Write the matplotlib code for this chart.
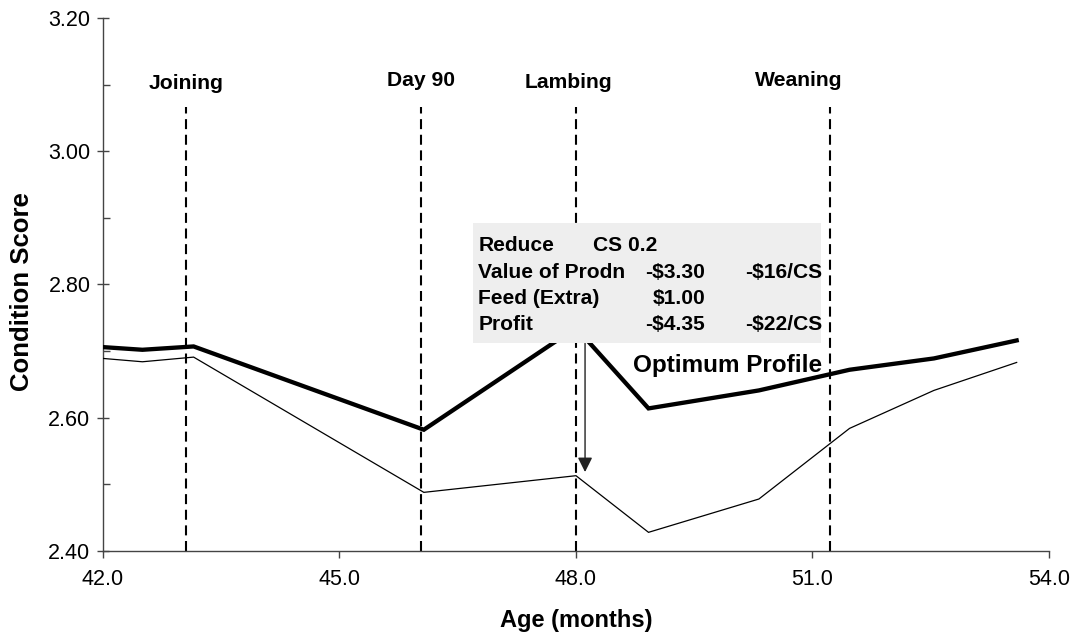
import matplotlib
matplotlib.use("Agg")
import matplotlib.pyplot as plt
from matplotlib.ticker import MultipleLocator, FormatStrFormatter
from matplotlib.patches import Rectangle

plt.rcParams['font.family'] = ['Liberation Sans', 'DejaVu Sans']

# ---- data ----
age = [42.0, 42.5, 43.15, 46.07, 48.0, 48.92, 50.32, 51.47, 52.54, 53.59]
optimum_cs = [2.706, 2.702, 2.707, 2.582, 2.735, 2.614, 2.641, 2.672, 2.689, 2.716]
reduced_cs = [2.689, 2.684, 2.691, 2.488, 2.513, 2.428, 2.478, 2.584, 2.641, 2.683]

event_names = ["Joining", "Day 90", "Lambing", "Weaning"]
event_ages = [43.05, 46.03, 48.0, 51.22]

box_rows = [
    ["Reduce", "CS 0.2", "", ""],
    ["Value of Prodn", "", "-$3.30", "-$16/CS"],
    ["Feed (Extra)", "", "$1.00", ""],
    ["Profit", "", "-$4.35", "-$22/CS"],
]

x_ticks = [42.0, 45.0, 48.0, 51.0, 54.0]
y_ticks = [2.40, 2.60, 2.80, 3.00, 3.20]

# ---- figure ----
fig = plt.figure(figsize=(10.76, 6.35), dpi=100)
ax = fig.add_axes([0.0957, 0.1323, 0.8792, 0.8394])
ax.set_xlim(42.0, 54.0)
ax.set_ylim(2.40, 3.20)

ax.plot(age, reduced_cs, color='black', lw=0.9, zorder=3, solid_joinstyle='miter')
ax.plot(age, optimum_cs, color='black', lw=3.1, zorder=3, solid_joinstyle='miter')

for a in event_ages:
    ax.vlines(a, 2.40, 3.066, colors='black', lw=1.5,
              linestyles=(0, (4.8, 2.7)), zorder=2)

label_x = [43.05, 46.04, 47.91, 50.83]
label_y = [3.0927, 3.0977, 3.0951, 3.0977]
for name, lx, ly in zip(event_names, label_x, label_y):
    ax.text(lx, ly, name, ha='center', va='baseline', fontsize=15.2,
            fontweight='bold')

# info box
box = Rectangle((46.69, 2.7116), 51.11 - 46.69, 2.8917 - 2.7116,
                facecolor='#eeeeee', edgecolor='none', zorder=5)
ax.add_patch(box)
row_y = [2.850, 2.810, 2.770, 2.7316]
fs_box = 15.1
for row, yy in zip(box_rows, row_y):
    c1, c2, c3, c4 = row
    ax.text(46.76, yy, c1, ha='left', va='baseline', fontsize=fs_box,
            fontweight='bold', zorder=6)
    if c2:
        ax.text(48.216, yy, c2, ha='left', va='baseline', fontsize=fs_box,
                fontweight='bold', zorder=6)
    if c3:
        ax.text(49.637, yy, c3, ha='right', va='baseline', fontsize=fs_box,
                fontweight='bold', zorder=6)
    if c4:
        ax.text(50.144, yy, c4, ha='left', va='baseline', fontsize=fs_box,
                fontweight='bold', zorder=6)

ax.annotate("", xy=(48.115, 2.5185), xytext=(48.115, 2.7116),
            arrowprops=dict(arrowstyle='-|>', lw=1.0, color='#222222',
                            mutation_scale=22, shrinkA=0, shrinkB=0),
            zorder=4)

ax.text(48.72, 2.669, "Optimum Profile", ha='left', va='baseline',
        fontsize=17.5, fontweight='bold', zorder=6)

# axes styling
for s in ['top', 'right']:
    ax.spines[s].set_visible(False)
for s in ['left', 'bottom']:
    ax.spines[s].set_color('#444444')
    ax.spines[s].set_linewidth(1.0)

ax.set_xticks(x_ticks)
ax.set_yticks(y_ticks)
ax.xaxis.set_major_formatter(FormatStrFormatter('%.1f'))
ax.yaxis.set_major_formatter(FormatStrFormatter('%.2f'))
ax.yaxis.set_minor_locator(MultipleLocator(0.1))
ax.tick_params(axis='x', which='major', direction='out', length=5,
               width=1.0, color='#444444', labelsize=15.5, pad=8)
ax.tick_params(axis='y', which='major', direction='inout', length=8,
               width=1.0, color='#444444', labelsize=15.5, pad=5)
ax.tick_params(axis='y', which='minor', direction='in', length=5,
               width=1.0, color='#444444')

fig.text(22.5 / 1076, 1 - 292 / 635, "Condition Score", rotation=90,
         ha='center', va='center', fontsize=18.5, fontweight='bold')
fig.text(576 / 1076, 1 - 620 / 635, "Age (months)", ha='center',
         va='center', fontsize=17, fontweight='bold')

fig.savefig("out.png", dpi=100)
